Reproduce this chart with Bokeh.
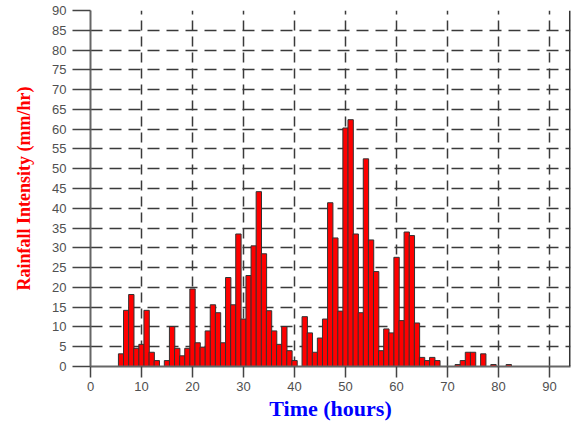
from bokeh.plotting import figure
from bokeh.models import Range1d, FixedTicker, Span, ColumnDataSource
from bokeh.embed import file_html
from bokeh.resources import INLINE

# Time (hours) at bar centres and rainfall intensity (mm/hr)
time_h = list(range(6, 83))
intensity = [
    3.2, 14.2, 18.2, 4.6, 5.6, 14.2, 3.6, 1.5, 0.0, 1.5,      # 6-15
    10.1, 4.6, 2.7, 4.6, 19.6, 6.0, 4.9, 9.0, 15.6, 13.6,     # 16-25
    6.0, 22.5, 15.6, 33.5, 12.0, 23.0, 30.5, 44.2, 28.5, 14.1,  # 26-35
    9.0, 5.6, 10.1, 4.0, 1.5, 0.0, 12.6, 8.5, 3.6, 7.2,       # 36-45
    12.0, 41.4, 32.5, 14.0, 60.3, 62.4, 33.5, 13.6, 52.5, 32.0,  # 46-55
    24.0, 4.0, 9.5, 8.5, 27.6, 11.6, 34.0, 33.1, 11.0, 2.3,   # 56-65
    1.5, 2.3, 1.5, 0.0, 0.0, 0.0, 0.5, 1.5, 3.6, 3.6,         # 66-75
    0.0, 3.2, 0.0, 0.5, 0.0, 0.0, 0.5,                        # 76-82
]
x_ticks = [0, 10, 20, 30, 40, 50, 60, 70, 80, 90]
y_ticks = list(range(0, 95, 5))

xs = [t for t, v in zip(time_h, intensity) if v > 0]
vs = [v for v in intensity if v > 0]
src = ColumnDataSource(dict(x=xs, top=vs))

p = figure(width=576, height=428, output_backend="svg", toolbar_location=None,
           x_range=Range1d(0, 94.1), y_range=Range1d(0, 90),
           min_border_left=90, min_border_right=6, min_border_top=10,
           min_border_bottom=62)
p.outline_line_color = None
p.background_fill_color = "white"
p.border_fill_color = "white"

p.vbar(x="x", top="top", width=1.05, source=src,
       fill_color="#FF0000", line_color="#333333", line_width=1)

# grids
p.xgrid.ticker = FixedTicker(ticks=x_ticks[1:])
p.ygrid.ticker = FixedTicker(ticks=y_ticks[1:])
p.xgrid.grid_line_color = "#3a3a3a"
p.xgrid.grid_line_width = 1.5
p.xgrid.grid_line_dash = "10 6"
p.ygrid.grid_line_color = "#3a3a3a"
p.ygrid.grid_line_width = 1.5
p.ygrid.grid_line_dash = "12 7"

# axes
p.xaxis.ticker = FixedTicker(ticks=x_ticks)
p.yaxis.ticker = FixedTicker(ticks=y_ticks)
for ax in (p.xaxis[0], p.yaxis[0]):
    ax.axis_line_color = "#666666"
    ax.axis_line_width = 2
    ax.major_tick_line_color = "#444444"
    ax.major_tick_line_width = 1.5
    ax.major_tick_in = 0
    ax.minor_tick_line_color = None
    ax.major_label_text_font = "Liberation Sans"
    ax.major_label_text_font_size = "13px"
    ax.major_label_text_color = "#505050"

p.yaxis.major_tick_out = 18
p.yaxis.major_label_standoff = 6
p.xaxis.major_tick_out = 11
p.xaxis.major_label_standoff = 4

p.yaxis.axis_label = "Rainfall Intensity (mm/hr)"
p.yaxis.axis_label_text_font = "Liberation Serif"
p.yaxis.axis_label_text_font_style = "bold"
p.yaxis.axis_label_text_font_size = "18px"
p.yaxis.axis_label_text_color = "#FF0000"
p.yaxis.axis_label_standoff = 15

p.xaxis.axis_label = "Time (hours)"
p.xaxis.axis_label_text_font = "Liberation Serif"
p.xaxis.axis_label_text_font_style = "bold"
p.xaxis.axis_label_text_font_size = "22px"
p.xaxis.axis_label_text_color = "#0000FF"
p.xaxis.axis_label_standoff = 2

# right frame border
p.add_layout(Span(location=94.0, dimension="height", line_color="#333333", line_width=2))

open("out.html", "w").write(file_html(p, INLINE))
